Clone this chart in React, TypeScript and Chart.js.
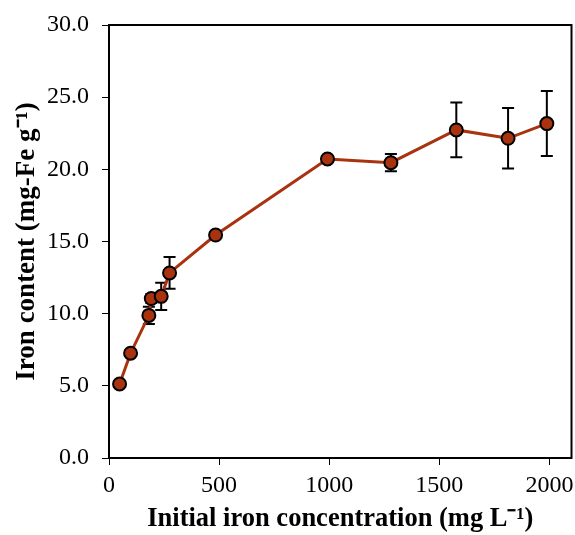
import React, { useEffect, useRef } from "react";
import { Chart, registerables } from "chart.js";

Chart.register(...registerables);

const xValues = [48, 98, 181, 192, 237, 275, 484, 992, 1280, 1577, 1812, 1988];
const yValues = [5.13, 7.26, 9.88, 11.05, 11.2, 12.82, 15.45, 20.72, 20.46, 22.73, 22.15, 23.17];
const yErrors = [0.2, 0.2, 0.6, 0.3, 0.95, 1.1, 0.2, 0.2, 0.6, 1.9, 2.1, 2.25];
const xTicks = [0, 500, 1000, 1500, 2000];
const yTicks = [0, 5, 10, 15, 20, 25, 30];

const FONT = "'Liberation Serif', 'Times New Roman', serif";
const RED = "#A9330F";

const errorBarPlugin = {
  id: "errorBars",
  beforeDatasetsDraw(chart: any) {
    const { ctx, scales } = chart;
    const xs = scales.x;
    const ys = scales.y;
    ctx.save();
    ctx.strokeStyle = "#000";
    ctx.lineWidth = 2;
    xValues.forEach((xv, i) => {
      const px = xs.getPixelForValue(xv);
      const top = ys.getPixelForValue(yValues[i] + yErrors[i]);
      const bot = ys.getPixelForValue(yValues[i] - yErrors[i]);
      ctx.beginPath();
      ctx.moveTo(px, top);
      ctx.lineTo(px, bot);
      ctx.moveTo(px - 6, top);
      ctx.lineTo(px + 6, top);
      ctx.moveTo(px - 6, bot);
      ctx.lineTo(px + 6, bot);
      ctx.stroke();
    });
    ctx.restore();
  },
  afterDraw(chart: any) {
    const { ctx, chartArea } = chart;
    ctx.save();
    ctx.strokeStyle = "#000";
    ctx.lineWidth = 2;
    ctx.strokeRect(chartArea.left, chartArea.top, chartArea.right - chartArea.left, chartArea.bottom - chartArea.top);
    ctx.restore();
  },
};

export default function App() {
  const ref = useRef<HTMLCanvasElement>(null);
  useEffect(() => {
    if (!ref.current) return;
    const chart = new Chart(ref.current, {
      type: "line",
      data: {
        datasets: [
          {
            data: xValues.map((x, i) => ({ x, y: yValues[i] })),
            borderColor: RED,
            borderWidth: 3,
            backgroundColor: RED,
            pointRadius: 6.5,
            pointBorderWidth: 2,
            pointBorderColor: "#000",
            pointBackgroundColor: RED,
            tension: 0,
          },
        ],
      },
      options: {
        responsive: false,
        animation: false,
        layout: { autoPadding: false, padding: { top: 25, right: 3.5, left: 0, bottom: 0 } },
        plugins: { legend: { display: false }, tooltip: { enabled: false } },
        scales: {
          x: {
            type: "linear",
            min: 0,
            max: 2100,
            afterFit: (s: any) => {
              s.height = 77;
              s.paddingLeft = 0;
              s.paddingRight = 0;
            },
            afterBuildTicks: (s: any) => {
              s.ticks = xTicks.map((v) => ({ value: v }));
            },
            ticks: {
              includeBounds: false,
              stepSize: 500,
              color: "#000",
              padding: 6,
              maxRotation: 0,
              font: { family: FONT, size: 24 },
              callback: (v: any) => String(v),
            },
            grid: { drawOnChartArea: false, drawTicks: true, tickLength: 7, color: "#000", lineWidth: 1 },
            border: { display: false },
            title: {
              display: true,
              text: "Initial iron concentration (mg L\u207B\u00B9)",
              color: "#000",
              font: { family: FONT, size: 26.5, weight: "bold" },
              padding: { top: 0, bottom: 0 },
            },
          },
          y: {
            type: "linear",
            min: 0,
            max: 30,
            afterFit: (s: any) => {
              s.width = 109;
              s.paddingTop = 0;
              s.paddingBottom = 0;
            },
            afterBuildTicks: (s: any) => {
              s.ticks = yTicks.map((v) => ({ value: v }));
            },
            ticks: {
              color: "#000",
              padding: 13,
              font: { family: FONT, size: 24 },
              callback: (v: any) => Number(v).toFixed(1),
            },
            grid: { drawOnChartArea: false, drawTicks: true, tickLength: 7, color: "#000", lineWidth: 1 },
            border: { display: false },
            title: {
              display: true,
              text: "Iron content (mg-Fe g\u207B\u00B9)",
              color: "#000",
              font: { family: FONT, size: 27, weight: "bold" },
              padding: { top: 11, bottom: 0 },
            },
          },
        },
      },
      plugins: [errorBarPlugin],
    });
    return () => chart.destroy();
  }, []);
  return (
    <div style={{ position: "absolute", left: 0, top: 0, width: 575, height: 535 }}>
      <canvas ref={ref} width={575} height={535} style={{ display: "block" }} />
    </div>
  );
}
